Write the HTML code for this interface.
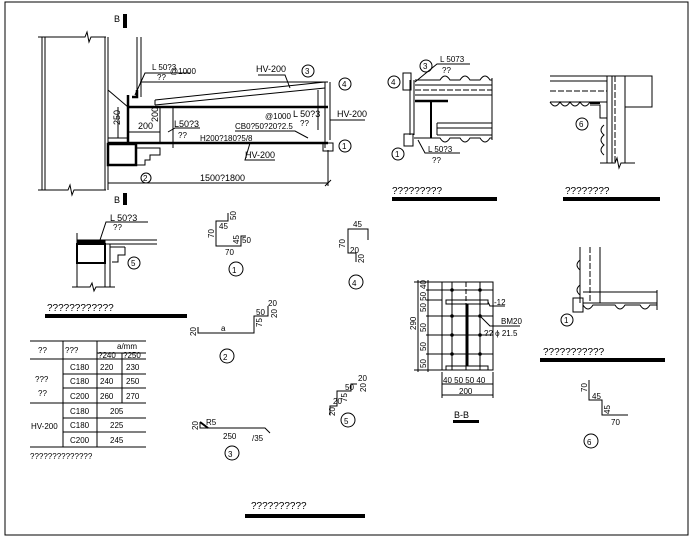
<!DOCTYPE html>
<html><head><meta charset="utf-8"><style>
html,body{margin:0;padding:0;background:#fff;}
svg{display:block;}
text{font-family:"Liberation Sans",sans-serif;font-size:9px;fill:#000;}
.s{font-size:8px;}
</style></head><body>
<svg width="696" height="540" viewBox="0 0 696 540" xmlns="http://www.w3.org/2000/svg">
<g fill="none" stroke="#000" stroke-width="1">
<rect x="5" y="2" width="683" height="533"/>

<line x1="42" y1="37" x2="42" y2="190"/><line x1="45" y1="37" x2="45" y2="190"/>
<line x1="105" y1="37" x2="105" y2="190"/><line x1="108" y1="37" x2="108" y2="190"/>
<polyline points="38,37 85,37 87,32 89,42 91,37 106,37"/>
<polyline points="38,190 68,190 70,185 72,195 74,190 106,190"/>
<line x1="137" y1="37" x2="137" y2="97"/><line x1="141" y1="37" x2="141" y2="97"/>
<line x1="140" y1="82" x2="328" y2="82"/>
<line x1="155" y1="100" x2="325" y2="82"/><line x1="155" y1="105" x2="325" y2="88"/>
<line x1="155" y1="100" x2="155" y2="105"/>
<g stroke-width="2.5">
<line x1="128" y1="107" x2="328" y2="107"/>
<line x1="108" y1="143" x2="328" y2="143"/>
<line x1="128" y1="95" x2="128" y2="143"/>
<polyline points="132,97 137,97 137,90"/>
<rect x="108" y="144" width="28" height="21"/>
</g>
<polyline points="137,148 160,148 160,155 150,155 150,160 145,160 145,165 137,165"/>
<line x1="108" y1="138" x2="128" y2="138"/>
<line x1="118" y1="107" x2="118" y2="138"/>
<line x1="108" y1="90" x2="128" y2="107"/>
<line x1="160" y1="107" x2="160" y2="143"/>
<line x1="128" y1="132" x2="160" y2="132"/>
<line x1="173" y1="107" x2="173" y2="148"/>
<line x1="325" y1="82" x2="325" y2="148"/><line x1="330" y1="82" x2="330" y2="140"/>
<line x1="318" y1="90" x2="318" y2="130"/>
<rect x="323" y="143" width="10" height="8"/>
<line x1="108" y1="183" x2="328" y2="183"/>
<line x1="328" y1="150" x2="328" y2="186"/>
<line x1="325" y1="186" x2="331" y2="180"/>
<circle cx="146" cy="178" r="5"/>
<circle cx="308" cy="71" r="6"/><circle cx="345" cy="84" r="6"/><circle cx="345" cy="146" r="6"/>
<polyline points="135,95 145,73 190,73"/>
<polyline points="290,88 285,75 258,75"/>
<polyline points="168,132 175,128 200,128"/>
<polyline points="308,138 295,131 235,131"/>
<polyline points="250,143 245,160 275,160"/>
<polyline points="330,120 333,120 365,120"/>

<rect x="77" y="240" width="28" height="4" fill="#000"/>
<line x1="105" y1="240" x2="157" y2="240"/><line x1="105" y1="244" x2="157" y2="244"/>
<line x1="110" y1="247" x2="125" y2="247"/>
<polyline points="125,247 125,255 118,255 118,262 112,262"/>
<rect x="77" y="244" width="28" height="19" stroke-width="2"/>
<line x1="77" y1="233" x2="77" y2="287"/>
<line x1="105" y1="244" x2="105" y2="287"/><line x1="110" y1="244" x2="110" y2="287"/>
<polyline points="72,287 90,287 92,283 94,291 96,287 115,287"/>
<polyline points="100,240 106,222 148,222"/>
<circle cx="134" cy="263" r="6"/>

<line x1="30" y1="341" x2="146" y2="341"/>
<line x1="97" y1="353" x2="146" y2="353"/>
<line x1="30" y1="359" x2="146" y2="359"/>
<line x1="63" y1="374" x2="146" y2="374"/>
<line x1="63" y1="388" x2="146" y2="388"/>
<line x1="30" y1="403" x2="146" y2="403"/>
<line x1="63" y1="418" x2="146" y2="418"/>
<line x1="63" y1="432" x2="146" y2="432"/>
<line x1="30" y1="447" x2="146" y2="447"/>
<line x1="63" y1="341" x2="63" y2="447"/>
<line x1="97" y1="341" x2="97" y2="447"/>
<line x1="122" y1="353" x2="122" y2="403"/>

<polyline points="228,213 228,221 216,221 216,246 241,246 241,236 246,236"/>
<polyline points="368,240 368,229 348,229 348,253 356,253 356,262"/>
<polyline points="198,327 198,333 254,333 254,316 268,316 268,306"/>
<polyline points="200,422 200,428 265,428 270,433"/>
<line x1="200" y1="422" x2="208" y2="428" stroke-width="2"/>
<polyline points="330,415 330,406 337,406 337,391 351,391 351,384 357,384"/>
<polyline points="589,380 589,400 602,400 602,415 628,415"/>
<circle cx="236" cy="269" r="7"/><circle cx="356" cy="282" r="7"/><circle cx="227" cy="356" r="7"/>
<circle cx="232" cy="453" r="7"/><circle cx="348" cy="420" r="7"/><circle cx="591" cy="441" r="7"/>

<rect x="403" y="73" width="8" height="17"/>
<line x1="410" y1="80" x2="410" y2="135"/><line x1="414" y1="80" x2="414" y2="135"/>
<path d="M415,80 L440,80 Q445,72 450,80 L460,80 Q465,72 470,80 L480,80 Q485,72 490,80 L492,80"/>
<line x1="415" y1="85" x2="492" y2="85"/><line x1="415" y1="90" x2="492" y2="90" stroke-dasharray="6,2"/><line x1="415" y1="95" x2="492" y2="95"/>
<line x1="415" y1="101" x2="448" y2="101" stroke-width="2.5"/>
<line x1="431" y1="101" x2="431" y2="138" stroke-width="2"/>
<line x1="437" y1="123" x2="492" y2="123"/><line x1="437" y1="128" x2="492" y2="128"/><line x1="437" y1="135" x2="492" y2="135"/>
<line x1="437" y1="123" x2="437" y2="135"/>
<path d="M414,138 L440,138 Q445,146 450,138 L460,138 Q465,146 470,138 L480,138 Q485,146 490,138 L492,138"/>
<line x1="492" y1="78" x2="492" y2="140"/>
<rect x="404" y="134" width="9" height="12"/>
<circle cx="394" cy="82" r="6"/><circle cx="426" cy="66" r="6"/><circle cx="398" cy="154" r="6"/>
<polyline points="415,82 437,64 470,64"/>
<polyline points="418,140 425,153 460,153"/>

<line x1="550" y1="76" x2="652" y2="76"/>
<line x1="550" y1="81" x2="607" y2="81"/><line x1="550" y1="102" x2="607" y2="102"/>
<line x1="550" y1="91" x2="607" y2="91" stroke-dasharray="6,2"/>
<path d="M550,102 Q555,110 560,102 Q565,110 570,102 Q575,110 580,102 Q585,110 590,102"/>
<line x1="590" y1="103" x2="600" y2="103" stroke-width="2"/>
<polyline points="590,105 600,105 600,118 607,118"/>
<line x1="607" y1="76" x2="607" y2="163"/><line x1="612" y1="76" x2="612" y2="163"/>
<line x1="615" y1="76" x2="615" y2="163" stroke-dasharray="6,2"/><line x1="625" y1="76" x2="625" y2="163"/>
<rect x="625" y="76" width="27" height="31"/>
<polyline points="600,163 615,163 617,158 619,168 621,163 635,163"/>
<circle cx="582" cy="124" r="6"/>
<path d="M604,125 Q598,130 604,135 Q598,140 604,145 Q598,150 604,155"/>

<rect x="442" y="282" width="51" height="88"/>
<line x1="442" y1="290" x2="493" y2="290"/><line x1="442" y1="316" x2="493" y2="316"/>
<line x1="442" y1="335" x2="493" y2="335"/><line x1="442" y1="354" x2="493" y2="354"/>
<line x1="452" y1="282" x2="452" y2="370"/><line x1="480" y1="282" x2="480" y2="370"/>
<line x1="466" y1="282" x2="466" y2="370" stroke-dasharray="5,2"/>
<rect x="446" y="300" width="42" height="4"/><rect x="446" y="366" width="42" height="4"/>
<line x1="467" y1="304" x2="467" y2="366" stroke-width="3"/>
<line x1="418" y1="280" x2="418" y2="372"/><line x1="428" y1="280" x2="428" y2="372"/>
<line x1="414" y1="282" x2="442" y2="282"/><line x1="414" y1="370" x2="442" y2="370"/>
<line x1="426" y1="290" x2="442" y2="290"/><line x1="426" y1="300" x2="442" y2="300"/>
<line x1="426" y1="316" x2="442" y2="316"/><line x1="426" y1="335" x2="442" y2="335"/><line x1="426" y1="354" x2="442" y2="354"/>
<line x1="442" y1="372" x2="442" y2="398"/><line x1="493" y1="372" x2="493" y2="398"/>
<line x1="442" y1="384" x2="493" y2="384"/><line x1="442" y1="395" x2="493" y2="395"/>
<polyline points="488,302 490,306 505,306"/>
<polyline points="480,316 490,326 520,326"/>
<line x1="580" y1="247" x2="580" y2="303"/><line x1="590" y1="247" x2="590" y2="303" stroke-dasharray="6,2"/><line x1="600" y1="247" x2="600" y2="303"/>
<path d="M580,260 Q574,265 580,270 M580,285 Q574,290 580,295"/>
<line x1="583" y1="292" x2="657" y2="292"/><line x1="583" y1="303" x2="657" y2="303"/>
<path d="M583,305 Q588,313 593,305 L615,305 Q620,313 625,305 L640,305 Q645,313 650,305 L657,305"/>
<line x1="657" y1="290" x2="657" y2="310"/>
<rect x="573" y="298" width="10" height="14"/>
<circle cx="567" cy="320" r="6"/>
</g>
<g fill="#000">
<rect x="123" y="14" width="4" height="14"/><rect x="123" y="193" width="4" height="12"/>
<rect x="45" y="314" width="142" height="4"/>
<rect x="245" y="514" width="120" height="4"/>
<rect x="392" y="197" width="105" height="4"/>
<rect x="563" y="197" width="97" height="4"/>
<rect x="540" y="358" width="125" height="4"/>
<rect x="453" y="420" width="26" height="3"/>
<circle cx="452" cy="290" r="1.8"/><circle cx="480" cy="290" r="1.8"/>
<circle cx="452" cy="316" r="1.8"/><circle cx="480" cy="316" r="1.8"/>
<circle cx="452" cy="335" r="1.8"/><circle cx="480" cy="335" r="1.8"/>
<circle cx="452" cy="354" r="1.8"/><circle cx="480" cy="354" r="1.8"/>
</g>
<text x="114" y="22">B</text><text x="114" y="203">B</text>
<text x="152" y="70" class="s">L  50?3</text><text x="170" y="74" class="s">@1000</text><text x="157" y="80" class="s">??</text>
<text x="256" y="72">HV-200</text><text x="305" y="74" class="s">3</text><text x="342" y="87" class="s">4</text>
<text x="265" y="119" class="s">@1000</text><text x="293" y="117">L  50?3</text><text x="300" y="126" class="s">??</text>
<text x="337" y="117">HV-200</text>
<text x="235" y="129" class="s">CB0?50?20?2.5</text>
<text x="200" y="141" class="s">H200?180?5/8</text>
<text x="245" y="158">HV-200</text><text x="342" y="149" class="s">1</text>
<text x="174" y="127">L50?3</text><text x="178" y="138" class="s">??</text>
<text x="138" y="129">200</text>
<text transform="translate(158,122) rotate(-90)">200</text>
<text transform="translate(120,125) rotate(-90)">250</text>
<text x="200" y="181">1500?1800</text><text x="143" y="181" class="s">2</text>
<text x="110" y="221">L   50?3</text><text x="113" y="230" class="s">??</text><text x="131" y="266" class="s">5</text>
<text x="47" y="311" style="font-size:10px">????????????</text>
<text x="38" y="353" class="s">??</text><text x="65" y="353" class="s">???</text><text x="117" y="349" class="s">a/mm</text>
<text x="98" y="358" class="s">?240</text><text x="123" y="358" class="s">?250</text>
<text x="35" y="382" class="s">???</text><text x="38" y="396" class="s">??</text>
<text x="70" y="370" class="s">C180</text><text x="100" y="370" class="s">220</text><text x="126" y="370" class="s">230</text>
<text x="70" y="384" class="s">C180</text><text x="100" y="384" class="s">240</text><text x="126" y="384" class="s">250</text>
<text x="70" y="399" class="s">C200</text><text x="100" y="399" class="s">260</text><text x="126" y="399" class="s">270</text>
<text x="31" y="429" class="s">HV-200</text>
<text x="70" y="414" class="s">C180</text><text x="110" y="414" class="s">205</text>
<text x="70" y="428" class="s">C180</text><text x="110" y="428" class="s">225</text>
<text x="70" y="443" class="s">C200</text><text x="110" y="443" class="s">245</text>
<text x="30" y="459" class="s">??????????????</text>
<text x="219" y="229" class="s">45</text><text transform="translate(236,220) rotate(-90)" class="s">50</text>
<text transform="translate(214,238) rotate(-90)" class="s">70</text><text x="225" y="255" class="s">70</text>
<text transform="translate(239,244) rotate(-90)" class="s">45</text><text x="242" y="243" class="s">50</text>
<text x="232" y="273" class="s">1</text>
<text x="353" y="227" class="s">45</text><text transform="translate(345,248) rotate(-90)" class="s">70</text>
<text x="350" y="253" class="s">20</text><text transform="translate(364,263) rotate(-90)" class="s">20</text>
<text x="352" y="286" class="s">4</text>
<text transform="translate(196,336) rotate(-90)" class="s">20</text><text x="221" y="331" class="s">a</text>
<text transform="translate(262,327) rotate(-90)" class="s">75</text><text x="256" y="315" class="s">50</text>
<text x="268" y="306" class="s">20</text><text transform="translate(277,318) rotate(-90)" class="s">20</text>
<text x="223" y="360" class="s">2</text>
<text transform="translate(198,430) rotate(-90)" class="s">20</text><text x="206" y="425" class="s">R5</text>
<text x="223" y="439" class="s">250</text><text x="252" y="441" class="s">/35</text>
<text x="228" y="457" class="s">3</text>
<text transform="translate(335,416) rotate(-90)" class="s">20</text><text x="333" y="404" class="s">20</text>
<text transform="translate(347,402) rotate(-90)" class="s">75</text><text x="345" y="390" class="s">50</text>
<text x="358" y="381" class="s">20</text><text transform="translate(366,392) rotate(-90)" class="s">20</text>
<text x="344" y="424" class="s">5</text>
<text transform="translate(587,392) rotate(-90)" class="s">70</text><text x="592" y="399" class="s">45</text>
<text transform="translate(610,414) rotate(-90)" class="s">45</text><text x="611" y="425" class="s">70</text>
<text x="587" y="445" class="s">6</text>
<text x="440" y="62" class="s">L  5073</text><text x="442" y="73" class="s">??</text>
<text x="428" y="152" class="s">L  50?3</text><text x="432" y="163" class="s">??</text>
<text x="391" y="85" class="s">4</text><text x="423" y="69" class="s">3</text><text x="395" y="157" class="s">1</text>
<text x="392" y="194" style="font-size:10px">?????????</text>
<text x="579" y="127" class="s">6</text>
<text x="565" y="194" style="font-size:10px">????????</text>
<text transform="translate(416,330) rotate(-90)" class="s">290</text>
<text transform="translate(426,289) rotate(-90)" class="s">40</text>
<text transform="translate(426,312) rotate(-90)" class="s">50 50</text>
<text transform="translate(426,332) rotate(-90)" class="s">50</text>
<text transform="translate(426,351) rotate(-90)" class="s">50</text>
<text transform="translate(426,368) rotate(-90)" class="s">50</text>
<text x="443" y="383" class="s">40 50 50 40</text><text x="459" y="394" class="s">200</text>
<text x="454" y="418">B-B</text>
<text x="494" y="305" class="s">-12</text><text x="501" y="324" class="s">BM20</text><text x="484" y="336" class="s">?? ϕ 21.5</text>
<text x="564" y="323" class="s">1</text>
<text x="543" y="355" style="font-size:10px">???????????</text>
<text x="251" y="509" style="font-size:10px">??????????</text>
</svg>
</body></html>
